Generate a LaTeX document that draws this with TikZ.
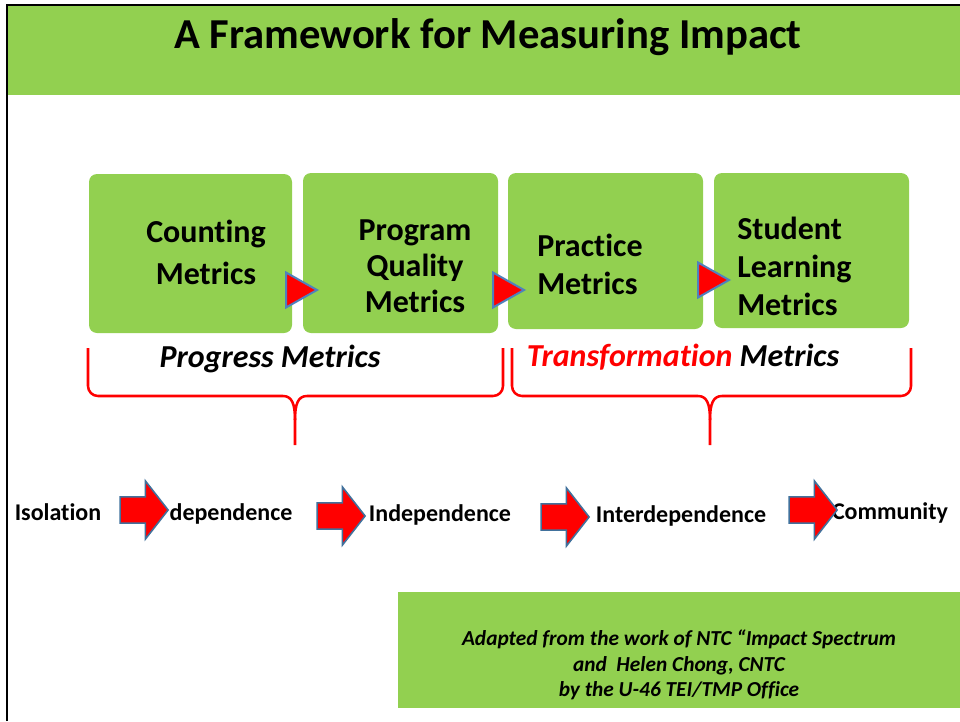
\documentclass[tikz,border=0pt]{standalone}
\usepackage{fontspec}
\setmainfont{Carlito}[Ligatures=NoCommon]
\usetikzlibrary{shapes.arrows}

\definecolor{slidegreen}{HTML}{92D050}
\definecolor{arrowblue}{HTML}{41719C}
\definecolor{triblue}{HTML}{4F81BD}

\tikzset{
  box/.style={fill=slidegreen, rounded corners=6pt},
  boxtext/.style={inner sep=0pt, font=\bfseries\fontsize{24}{#1}\selectfont},
  tri/.style={fill=red, draw=triblue, line width=1.5pt},
  brace/.style={draw=red, line width=1.9pt},
  word/.style={inner sep=0pt, anchor=base, font=\bfseries\fontsize{18}{21}\selectfont},
  metric/.style={inner sep=0pt, anchor=base, font=\bfseries\itshape\fontsize{24}{28}\selectfont},
  blockarrow/.style={single arrow, fill=red, draw=arrowblue, line width=1.2pt,
    minimum height=36pt, inner xsep=0pt, inner ysep=9.2pt,
    single arrow head extend=12pt, single arrow tip angle=104}
}

\begin{document}
\begin{tikzpicture}[x=0.75pt, y=-0.75pt]
\useasboundingbox (0,0) rectangle (960,721);

\fill[slidegreen] (7,5) rectangle (960,95);
\draw[line width=1.9pt] (7,721) -- (7,5) -- (960,5);
\node[anchor=base, inner sep=0pt, font=\bfseries\fontsize{32}{38}\selectfont] (title) at (488,48) {A Framework for Measuring Impact};

\fill[box] (89,174) rectangle (292,333);
\fill[box] (303,173) rectangle (498,333);
\fill[box] (508,173) rectangle (703,329);
\fill[box] (714,173) rectangle (909,328);

\node[boxtext=31.5, align=center] (count) at (206,252) {Counting\\Metrics};
\node[boxtext=27, align=center] (prog) at (415,266) {Program\\Quality\\Metrics};
\node[boxtext=28.5, align=left, anchor=west] (prac) at (537,264) {Practice\\Metrics};
\node[boxtext=28.5, align=left, anchor=west] (stud) at (737,266) {Student\\Learning\\Metrics};

\foreach \x/\y in {286/290, 493/290, 698/280}
  \draw[tri] (\x,\y-17.5) -- (\x+31,\y) -- (\x,\y+17.5) -- cycle;

\draw[brace] (88,348) -- (88,386) to[out=-90,in=180] (98,396) -- (283,396) .. controls (292,396) and (295,404) .. (295,420) -- (295,445);
\draw[brace] (295,420) .. controls (295,404) and (298,396) .. (307,396) -- (493,396) to[out=0,in=-90] (503,386) -- (503,348);
\draw[brace] (512,348) -- (512,386) to[out=-90,in=180] (522,396) -- (698,396) .. controls (707,396) and (710,404) .. (710,420) -- (710,445);
\draw[brace] (710,420) .. controls (710,404) and (713,396) .. (722,396) -- (901,396) to[out=0,in=-90] (911,386) -- (911,348);

\node[metric] (progm) at (270,367) {Progress Metrics};
\node[metric] (transm) at (683,366) {\textcolor{red}{Transformation} Metrics};

\node[word] (iso) at (58,520) {Isolation};
\node[word] (dep) at (231,520) {dependence};
\node[word] (ind) at (440,521) {Independence};
\node[word] (inter) at (681,522) {Interdependence};
\node[word] (comm) at (890,519) {Community};

\node[blockarrow] (ar1) at (139,510) {};
\node[blockarrow] (ar2) at (336,516) {};
\node[blockarrow] (ar3) at (560,517) {};
\node[blockarrow] (ar4) at (808,510) {};

\fill[slidegreen] (398,592) rectangle (960,708);
\node[align=center, inner sep=0pt, font=\bfseries\itshape\fontsize{16}{19}\selectfont] (credit) at (679,665) {Adapted from the work of NTC “Impact Spectrum\\and\ \ Helen Chong, CNTC\\by the U-46 TEI/TMP Office};

\end{tikzpicture}
\end{document}
